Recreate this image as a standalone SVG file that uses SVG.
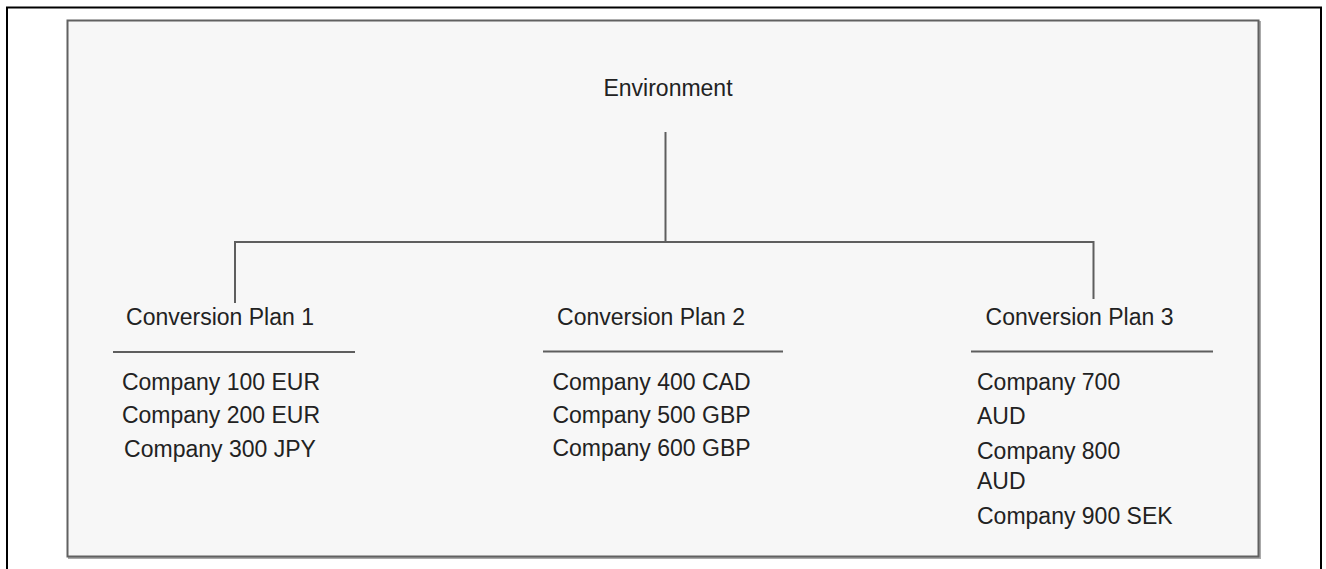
<svg xmlns="http://www.w3.org/2000/svg" width="1326" height="569" viewBox="0 0 1326 569">
  <style>
    .lbl { font-family: "Liberation Sans", Arial, sans-serif; font-size: 23px; fill: #222222; }
    .mid { text-anchor: middle; }
    .conn { stroke: #5e5e5e; stroke-width: 2; fill: none; }
    .rule { stroke: #5e5e5e; stroke-width: 2; }
  </style>
  <rect x="0" y="0" width="1326" height="569" fill="#ffffff"/>
  <rect x="7" y="7.5" width="1314" height="600" fill="none" stroke="#000000" stroke-width="2"/>
  <rect x="69" y="22" width="1191" height="536" fill="none" stroke="#aaaaaa" stroke-width="2"/>
  <rect x="67.5" y="20.5" width="1191" height="536" fill="#f7f7f7" stroke="#616161" stroke-width="2"/>

  <g id="connectors">
    <path class="conn" d="M665.5 132 V242"/>
    <path class="conn" d="M235 303 V242 H1093.5 V299"/>
  </g>

  <g id="environment">
    <text class="lbl mid" x="668" y="96">Environment</text>
  </g>

  <g id="plan1">
    <text class="lbl mid" x="220" y="325">Conversion Plan 1</text>
    <line class="rule" x1="113" y1="352" x2="355" y2="352"/>
    <text class="lbl mid" x="221" y="390">Company 100 EUR</text>
    <text class="lbl mid" x="221" y="423">Company 200 EUR</text>
    <text class="lbl mid" x="220" y="456.5">Company 300 JPY</text>
  </g>

  <g id="plan2">
    <text class="lbl mid" x="651" y="325">Conversion Plan 2</text>
    <line class="rule" x1="543" y1="351.5" x2="783" y2="351.5"/>
    <text class="lbl mid" x="651.5" y="390">Company 400 CAD</text>
    <text class="lbl mid" x="651.5" y="423">Company 500 GBP</text>
    <text class="lbl mid" x="651.5" y="456">Company 600 GBP</text>
  </g>

  <g id="plan3">
    <text class="lbl mid" x="1079.5" y="325">Conversion Plan 3</text>
    <line class="rule" x1="971" y1="351.5" x2="1213" y2="351.5"/>
    <text class="lbl" x="977" y="390">Company 700</text>
    <text class="lbl" x="977" y="424">AUD</text>
    <text class="lbl" x="977" y="459">Company 800</text>
    <text class="lbl" x="977" y="489">AUD</text>
    <text class="lbl" x="977" y="524">Company 900 SEK</text>
  </g>
</svg>
